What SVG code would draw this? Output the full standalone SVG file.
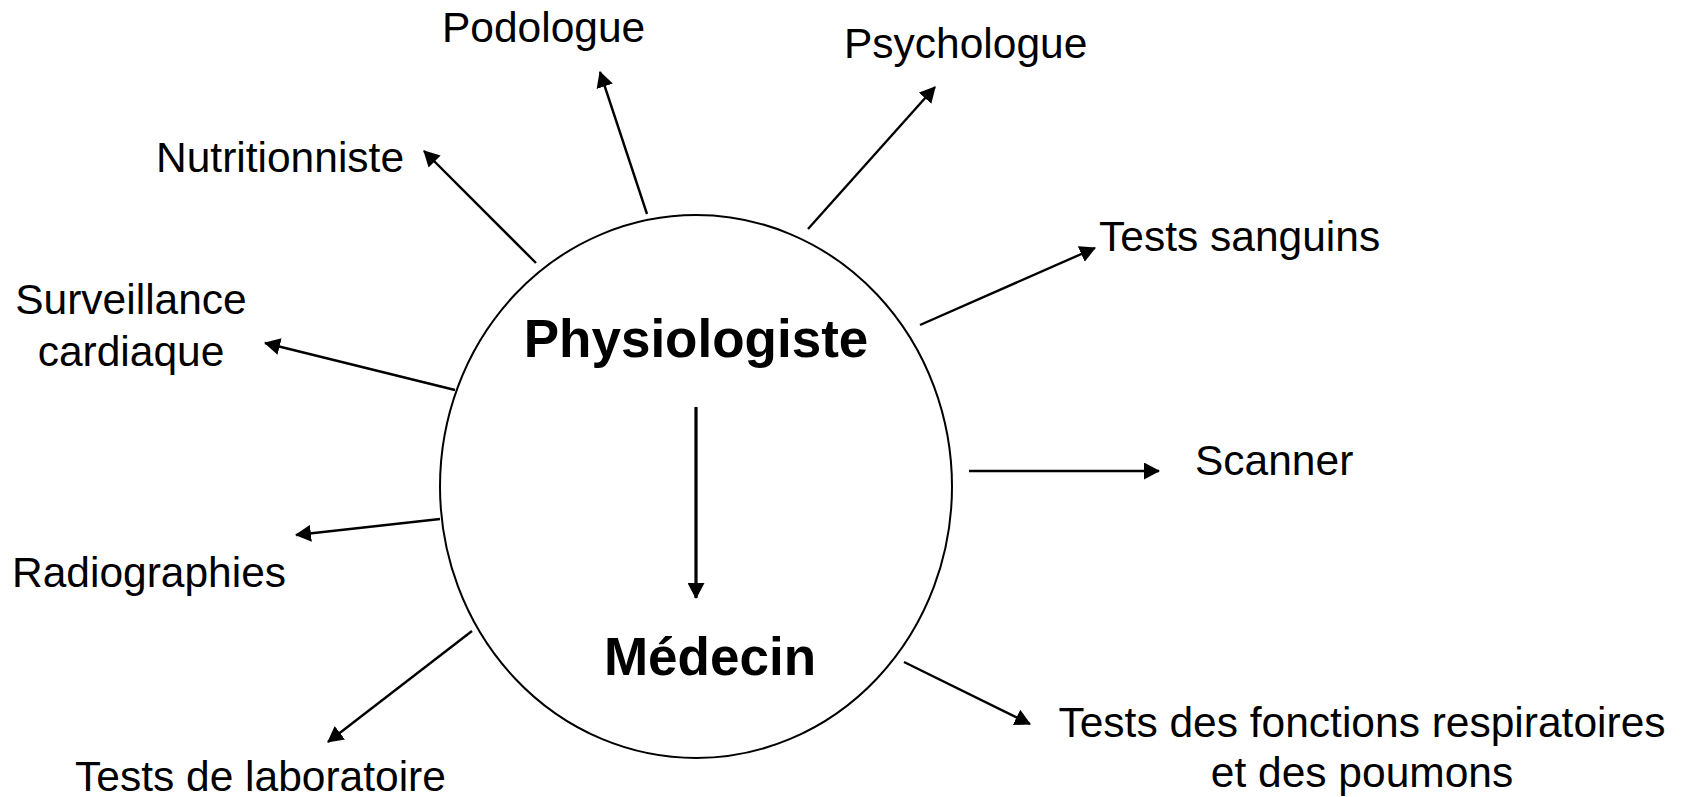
<svg xmlns="http://www.w3.org/2000/svg" width="1688" height="797" viewBox="0 0 1688 797">
  <style>
    .lbl { font-family: "Liberation Sans", Arial, sans-serif; font-size: 42.5px; fill: #000; }
    .role { font-family: "Liberation Sans", Arial, sans-serif; font-size: 53px; font-weight: bold; fill: #000; }
    .link { stroke: #000; stroke-width: 2.4; fill: none; marker-end: url(#head); }
    .main { stroke: #000; stroke-width: 3.2; fill: none; marker-end: url(#head); }
  </style>
  <defs>
    <marker id="head" markerUnits="userSpaceOnUse" markerWidth="17" markerHeight="17" refX="15" refY="8.5" orient="auto">
      <path d="M0,0 L16,8.5 L0,17 Z" fill="#000"/>
    </marker>
  </defs>
  <rect width="1688" height="797" fill="#fff"/>

  <!-- central ellipse with the two roles -->
  <g id="centre">
    <ellipse cx="696" cy="486.5" rx="256" ry="271.5" fill="#fff" stroke="#000" stroke-width="2"/>
    <text class="role" x="696" y="357" text-anchor="middle">Physiologiste</text>
    <text class="role" x="710" y="675" text-anchor="middle">Médecin</text>
  </g>

  <!-- connectors -->
  <g id="connectors">
    <line class="main" x1="696" y1="407" x2="696" y2="598"/>
    <line class="link" x1="536" y1="263" x2="424" y2="151"/>
    <line class="link" x1="647" y1="214" x2="600" y2="72"/>
    <line class="link" x1="808" y1="229" x2="935" y2="87"/>
    <line class="link" x1="920" y1="325" x2="1095" y2="248"/>
    <line class="link" x1="969" y1="471" x2="1159" y2="471"/>
    <line class="link" x1="904" y1="662" x2="1030" y2="724"/>
    <line class="link" x1="472" y1="631" x2="328" y2="742"/>
    <line class="link" x1="440" y1="519" x2="296" y2="535"/>
    <line class="link" x1="455" y1="390" x2="265" y2="343"/>
  </g>

  <!-- outer labels -->
  <g id="podologue"><text class="lbl" x="442" y="42">Podologue</text></g>
  <g id="psychologue"><text class="lbl" x="844" y="58">Psychologue</text></g>
  <g id="nutritionniste"><text class="lbl" x="156" y="172">Nutritionniste</text></g>
  <g id="tests-sanguins"><text class="lbl" x="1099" y="251">Tests sanguins</text></g>
  <g id="surveillance">
    <text class="lbl" x="131" y="314" text-anchor="middle">Surveillance</text>
    <text class="lbl" x="131" y="366" text-anchor="middle">cardiaque</text>
  </g>
  <g id="scanner"><text class="lbl" x="1195" y="475">Scanner</text></g>
  <g id="radiographies"><text class="lbl" x="12" y="587">Radiographies</text></g>
  <g id="tests-labo"><text class="lbl" x="75" y="791">Tests de laboratoire</text></g>
  <g id="tests-respiratoires">
    <text class="lbl" x="1362" y="737" text-anchor="middle">Tests des fonctions respiratoires</text>
    <text class="lbl" x="1362" y="787" text-anchor="middle">et des poumons</text>
  </g>
</svg>
